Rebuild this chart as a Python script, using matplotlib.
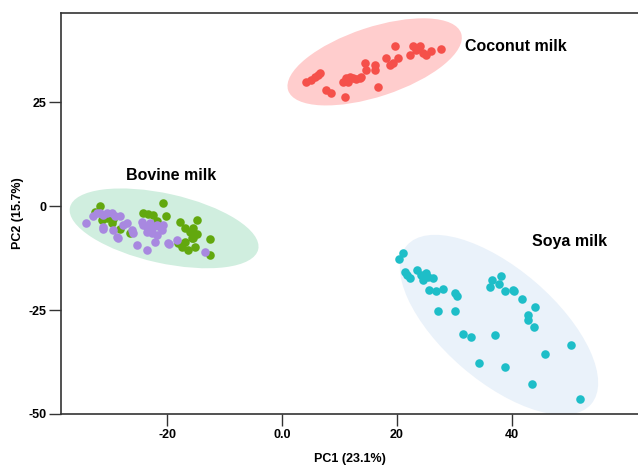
import numpy as np
import matplotlib.pyplot as plt
from matplotlib.patches import Ellipse
import matplotlib.transforms as transforms

plt.rcParams['font.family'] = ['Liberation Sans', 'DejaVu Sans']
plt.rcParams['font.weight'] = 'bold'

# PCA scores
coconut_x = [4.24, 5.11, 5.69, 6.26, 6.56, 7.72, 8.59, 10.90, 10.61, 11.20, 11.77,
             12.35, 12.94, 13.51, 13.81, 11.48, 14.38, 14.68, 16.12, 16.12, 16.70,
             18.16, 18.73, 19.30, 20.17, 19.60, 22.21, 22.78, 23.37, 23.95, 24.52,
             25.11, 25.98, 27.72]
coconut_y = [29.95, 30.36, 31.15, 31.56, 31.97, 27.96, 27.16, 26.20, 29.95, 30.77, 31.15,
             30.77, 30.53, 30.77, 31.15, 29.95, 34.38, 32.76, 33.96, 32.76, 28.75,
             35.58, 33.96, 34.38, 35.58, 38.53, 36.37, 38.53, 37.57, 38.53, 36.78,
             36.37, 37.40, 37.74]

bovine_a_x = [-34.14, -32.87, -32.28, -31.70, -31.13, -30.54, -29.67, -29.10, -28.23,
              -31.13, -31.13, -29.39, -28.80, -28.52, -27.65, -27.06, -26.19, -25.91,
              -25.32, -23.58, -24.45, -24.17, -23.58, -23.01, -22.43, -21.84, -21.27,
              -23.58, -22.71, -21.84, -22.14, -19.83, -18.37, -13.44, -20.70, -20.97,
              -19.65]
bovine_a_y = [-3.94, -2.33, -1.68, -1.68, -2.09, -1.68, -1.68, -2.33, -2.33,
              -4.90, -5.53, -5.70, -7.31, -7.69, -4.50, -4.09, -5.70, -6.49,
              -9.30, -10.50, -3.70, -4.50, -4.90, -4.09, -4.90, -4.50, -4.90,
              -6.10, -6.49, -6.90, -8.50, -8.90, -8.10, -10.90, -4.50, -5.70,
              -9.10]

bovine_b_x = [-31.70, -32.57, -31.41, -30.54, -29.97, -29.39, -29.67, -28.23, -26.49,
              -24.17, -23.30, -22.43, -21.84, -20.23, -20.80, -17.79, -16.92, -14.89,
              -15.48, -14.89, -15.76, -16.92, -17.50, -16.35, -15.18, -12.57, -12.57,
              -18.09, -16.05, -15.48]
bovine_b_y = [0.07, -1.30, -3.29, -2.88, -2.50, -3.13, -4.09, -5.53, -6.49,
              -1.54, -1.85, -2.09, -3.46, -2.33, 0.87, -3.70, -5.14, -3.29,
              -5.29, -6.73, -7.69, -8.50, -9.71, -10.50, -9.71, -7.86, -11.70,
              -8.90, -6.10, -7.70]

soya_x = [21.04, 20.35, 21.34, 21.74, 22.21, 23.48, 24.24, 24.99, 24.52, 25.39, 26.26,
          25.57, 26.73, 28.12, 30.21, 30.43, 27.13, 30.21, 31.60, 32.94, 37.17, 34.26,
          38.90, 43.48, 51.90, 36.59, 36.24, 37.74, 38.16, 38.90, 40.17, 40.47, 41.81,
          44.07, 42.90, 42.78, 43.83, 45.81, 50.33]
soya_y = [-11.30, -12.74, -15.72, -16.51, -17.31, -15.31, -16.51, -15.96, -17.72, -16.92,
          -17.31, -20.12, -20.29, -19.95, -20.77, -21.56, -25.17, -25.17, -30.70, -31.35,
          -30.94, -37.74, -38.70, -42.79, -46.32, -17.84, -19.42, -18.63, -16.87, -20.48,
          -20.07, -20.48, -22.31, -24.33, -26.08, -27.45, -29.13, -35.53, -33.51]

group_names = ['Coconut milk', 'Bovine milk', 'Soya milk']


def group_ellipse(x, y, ax, pads, tilt=0, **kw):
    # ellipse around a group, along its main axis, with margins in pixels
    # pads = (start, end, below, above) of the main axis
    p0, p1 = ax.transData.transform([[0, 0], [1, 1]])
    kx, ky = p1 - p0
    P = np.column_stack([np.asarray(x) * kx, np.asarray(y) * ky])
    c = P.mean(0)
    vals, vecs = np.linalg.eigh(np.cov(P.T))
    v = vecs[:, 1] * np.sign(vecs[0, 1])
    ang = np.degrees(np.arctan2(v[1], v[0])) + tilt
    v = np.array([np.cos(np.radians(ang)), np.sin(np.radians(ang))])
    w = np.array([-v[1], v[0]])
    pr = (P - c) @ v
    qr = (P - c) @ w
    lo_a, hi_a = pr.min() - pads[0], pr.max() + pads[1]
    lo_b, hi_b = qr.min() - pads[2], qr.max() + pads[3]
    cen = c + v * (lo_a + hi_a) / 2 + w * (lo_b + hi_b) / 2
    ell = Ellipse(cen, hi_a - lo_a, hi_b - lo_b, angle=ang, **kw)
    ell.set_transform(transforms.Affine2D().scale(1 / kx, 1 / ky) + ax.transData)
    ax.add_patch(ell)


fig = plt.figure(figsize=(6.38, 4.68), dpi=100)
ax = fig.add_axes([0.0956, 0.1154, 0.9044, 0.8576])
ax.set_xlim(-38.5, 62)
ax.set_ylim(-50, 46.6)

group_ellipse(coconut_x, coconut_y, ax, (20, 24, 10, 26),
              facecolor='#ffcdcd', edgecolor='none', zorder=1)
group_ellipse(bovine_a_x + bovine_b_x, bovine_a_y + bovine_b_y, ax, (19, 46, 10, 10),
              facecolor='#d0eedf', edgecolor='none', zorder=1)
group_ellipse(soya_x, soya_y, ax, (2, 12, 14, 18), tilt=-10,
              facecolor='#eaf2fa', edgecolor='none', zorder=1)

ax.scatter(coconut_x, coconut_y, s=38, color='#f5504a', linewidths=0, zorder=3)
ax.scatter(bovine_b_x, bovine_b_y, s=38, color='#62a80e', linewidths=0, zorder=3)
ax.scatter(bovine_a_x, bovine_a_y, s=38, color='#a888e0', linewidths=0, zorder=4)
ax.scatter(soya_x, soya_y, s=38, color='#1ebec8', linewidths=0, zorder=3)

ax.text(31.9, 38.5, group_names[0], fontsize=11.5, fontweight='bold', va='center')
ax.text(-27.2, 7.3, group_names[1], fontsize=11.5, fontweight='bold', va='center')
ax.text(43.6, -8.6, group_names[2], fontsize=11.5, fontweight='bold', va='center')

ax.set_xticks([-20, 0, 20, 40])
ax.set_xticklabels(['-20', '0.0', '20', '40'])
ax.set_yticks([25, 0, -25, -50])
ax.set_yticklabels(['25', '0', '-25', '-50'])
ax.tick_params(length=8.5, width=1, color='#333333', labelsize=9, pad=2)
for lab in ax.get_xticklabels() + ax.get_yticklabels():
    lab.set_fontweight('bold')
ax.spines['right'].set_visible(False)
for s in ['left', 'bottom', 'top']:
    ax.spines[s].set_linewidth(1.2)
    ax.spines[s].set_color('#333333')

ax.set_xlabel('PC1 (23.1%)', fontsize=9, fontweight='bold', labelpad=9)
ax.set_ylabel('PC2 (15.7%)', fontsize=9, fontweight='bold', labelpad=3)

fig.savefig('out.png', dpi=100)
